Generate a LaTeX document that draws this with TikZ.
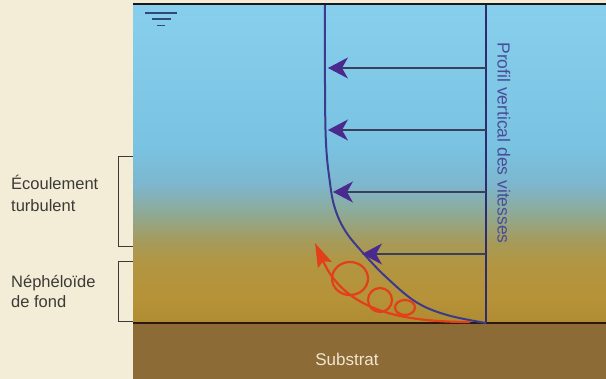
\documentclass[tikz,border=0pt]{standalone}
\usepackage{fontspec}
\setmainfont{Liberation Sans}
\usetikzlibrary{arrows.meta}
\definecolor{cream}{HTML}{F3EDD8}
\definecolor{substrat}{HTML}{8D6B37}
\definecolor{bedline}{HTML}{2A1A10}
\definecolor{profline}{HTML}{3B3A8F}
\definecolor{vertline}{HTML}{2E2C6E}
\definecolor{arrowpurple}{HTML}{4A2A8E}
\definecolor{arrowline}{HTML}{3A3F5C}
\definecolor{proftext}{HTML}{4B4C98}
\definecolor{turbred}{HTML}{E2401A}
\definecolor{labeltext}{HTML}{3C3A36}
\definecolor{bracket}{HTML}{3A3A3A}
\definecolor{surf}{HTML}{2F4A7A}
\definecolor{substext}{HTML}{F0E6D2}
\pgfdeclareverticalshading{water}{100bp}{%
rgb(0bp)=(0.686,0.549,0.196);
rgb(25bp)=(0.686,0.549,0.196);
rgb(29.1bp)=(0.714,0.573,0.220);
rgb(34.4bp)=(0.698,0.588,0.259);
rgb(38.05bp)=(0.647,0.608,0.361);
rgb(42.3bp)=(0.557,0.667,0.588);
rgb(46.7bp)=(0.490,0.714,0.804);
rgb(52.2bp)=(0.478,0.761,0.882);
rgb(75bp)=(0.529,0.812,0.929);
rgb(100bp)=(0.529,0.812,0.929)}
\tikzset{
  lbl/.style={anchor=base west, text=labeltext, font=\fontsize{16.5}{18}\selectfont, inner sep=0pt},
  brk/.style={draw=bracket, line width=1pt},
  vel/.style={draw=arrowline, line width=1.1pt, -{Stealth[length=20pt,width=21pt,inset=6pt,color=arrowpurple]}},
  turb/.style={draw=turbred, line width=2.2pt},
}
\begin{document}
\begin{tikzpicture}[x=1pt,y=-1pt]
\useasboundingbox (0,0) rectangle (606,379);
\fill[cream] (0,0) rectangle (606,379);
% water
\shade[shading=water] (133,5) rectangle (606,323);
% substrat
\fill[substrat] (133,323) rectangle (606,379);
\draw[bedline, line width=2.5pt] (133,323) -- (606,323);
\draw[black!90, line width=2pt] (133,4.5) -- (606,4.5);
% surface symbol
\draw[surf, line width=1.3pt] (145,13) -- (177,13);
\draw[surf, line width=1.3pt] (152,19) -- (171,19);
\draw[surf, line width=1.3pt] (157,25.5) -- (165,25.5);
% vertical reference line
\coordinate (vtop) at (486,5);
\coordinate (vbot) at (486,323);
\draw[vertline, line width=2pt] (vtop) -- (vbot);
% profile curve
\draw[profline, line width=2pt] plot[smooth, tension=0.6] coordinates {(325,5) (325.5,130) (330,183) (335.5,210) (346,232) (364,254) (386,277) (416,302) (447,315) (486,323)};
% velocity arrows
\coordinate (s1) at (486,68);  \coordinate (t1) at (328,68);
\coordinate (s2) at (486,130); \coordinate (t2) at (328,130);
\coordinate (s3) at (486,192); \coordinate (t3) at (333,192);
\coordinate (s4) at (486,254); \coordinate (t4) at (362,254);
\draw[vel] (s1) -- (t1);
\draw[vel] (s2) -- (t2);
\draw[vel] (s3) -- (t3);
\draw[vel] (s4) -- (t4);
% turbulent red path
\coordinate (rstart) at (470,322);
\coordinate (rtip) at (315,243);
\draw[turb, -{Stealth[length=24pt,width=15pt,inset=4pt]}] (rstart) .. controls (400,322) and (345,310) .. (rtip);
\draw[turb] (350,278.5) ellipse [x radius=18, y radius=16.5];
\draw[turb] (380,300) circle [radius=12];
\draw[turb] (405,307.5) ellipse [x radius=10, y radius=7.5];
% brackets
\draw[brk] (133,157) -- (118,157) -- (118,247) -- (133,247);
\draw[brk] (133,262) -- (118,262) -- (118,322) -- (133,322);
% labels
\node[lbl] (l1) at (11,190) {Écoulement};
\node[lbl] (l2) at (11,212) {turbulent};
\node[lbl] (l3) at (11,288) {Néphéloïde};
\node[lbl] (l4) at (11,308) {de fond};
\node[text=proftext, rotate=-90, font=\fontsize{17.5}{19}\selectfont, inner sep=0pt] (prof) at (504,143) {Profil vertical des vitesses};
\node[text=substext, anchor=base, font=\fontsize{17}{19}\selectfont, inner sep=0pt] (subs) at (347,366) {Substrat};
\end{tikzpicture}
\end{document}
